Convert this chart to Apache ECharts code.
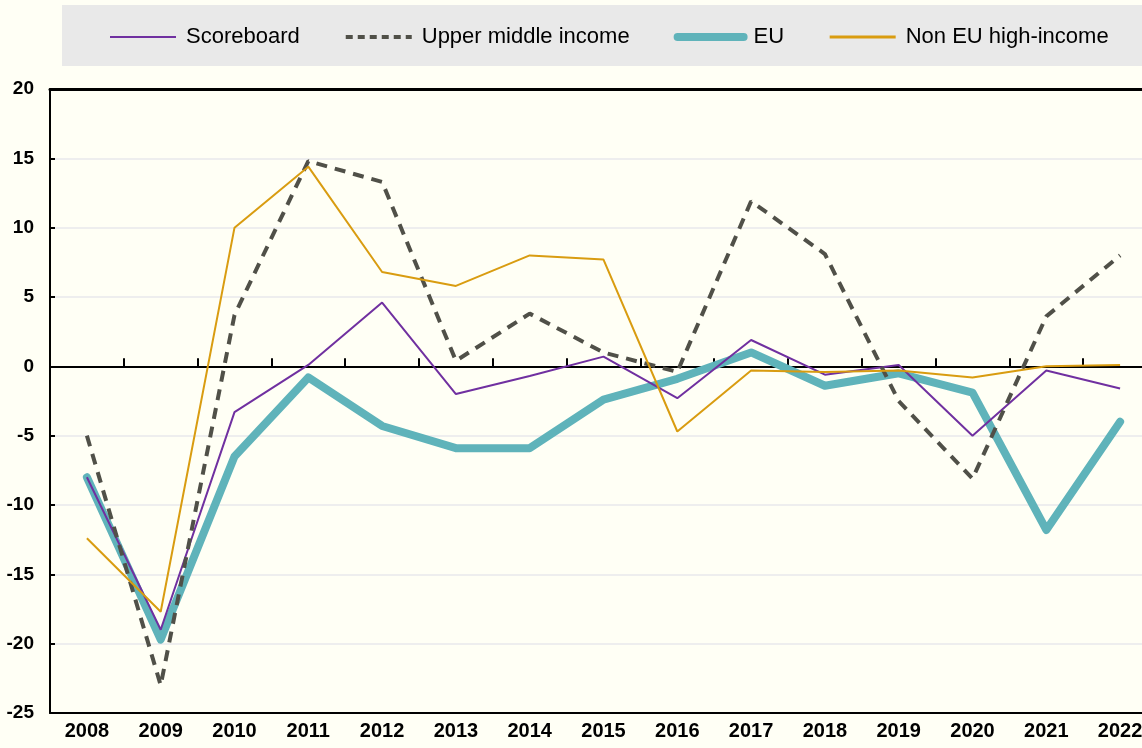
<!DOCTYPE html>
<html>
<head>
<meta charset="utf-8">
<script src="https://cdn.jsdelivr.net/npm/echarts@6/dist/echarts.min.js"></script>
<style>
    html, body { margin: 0; padding: 0; background: #fffff5; }
    #chart { width: 1142px; height: 748px; }
</style>
</head>
<body>
<div id="chart"></div>
<script>
// Data
const years = ['2008', '2009', '2010', '2011', '2012', '2013', '2014', '2015', '2016', '2017', '2018', '2019', '2020', '2021', '2022'];
const scoreboard = [-8.0, -19.0, -3.3, 0.1, 4.6, -2.0, -0.7, 0.7, -2.3, 1.9, -0.6, 0.1, -5.0, -0.3, -1.6];
const upperMiddle = [-5.0, -23.0, 3.7, 14.8, 13.3, 0.4, 3.8, 1.0, -0.4, 11.9, 8.1, -2.5, -8.1, 3.6, 8.0];
const eu = [-8.0, -19.7, -6.5, -0.8, -4.3, -5.9, -5.9, -2.4, -0.9, 1.0, -1.4, -0.5, -1.9, -11.8, -4.0];
const nonEuHigh = [-12.4, -17.7, 10.0, 14.4, 6.8, 5.8, 8.0, 7.7, -4.7, -0.3, -0.4, -0.3, -0.8, 0.0, 0.1];

const labelFont = '"Liberation Sans Narrow", "Arial Narrow", "Liberation Sans", Arial, sans-serif';

// Colours
const colorScoreboard = '#7030a0';
const colorUpper = '#505048';
const colorEu = '#5fb3ba';
const colorNonEu = '#d99c10';

const chart = echarts.init(document.getElementById('chart'));

const options = {
    backgroundColor: '#fffff5',
    animation: false,
    graphic: [
        {
            type: 'rect',
            shape: { x: 62, y: 5, width: 1080, height: 61 },
            style: { fill: '#e9e9e9' },
            z: -1
        }
    ],
    legend: {
        top: 21,
        left: 104,
        itemWidth: 66,
        itemHeight: 14,
        itemGap: 44,
        itemStyle: { opacity: 0 },
        data: [
            { name: 'Scoreboard', lineStyle: { width: 2 } },
            { name: 'Upper middle income', lineStyle: { width: 4, type: [7, 5] } },
            { name: 'EU', lineStyle: { width: 8, cap: 'round' } },
            { name: 'Non EU high-income', lineStyle: { width: 3 } }
        ],
        textStyle: {
            fontFamily: '"Liberation Sans", Arial, sans-serif',
            fontSize: 22,
            color: '#000',
            padding: [0, 0, 0, 5]
        }
    },
    grid: {
        left: 50,
        top: 89,
        width: 1107,
        height: 624,
        outerBoundsMode: 'none',
        containLabel: false
    },
    xAxis: [
        {
            type: 'category',
            data: years,
            position: 'bottom',
            axisLine: { onZero: false, lineStyle: { color: '#000', width: 2 } },
            axisTick: { show: false },
            axisLabel: {
                color: '#000',
                fontFamily: labelFont,
                fontWeight: 'bold',
                fontSize: 20,
                margin: 8
            }
        },
        {
            type: 'category',
            data: years,
            position: 'bottom',
            axisLine: { onZero: true, lineStyle: { color: '#000', width: 2 } },
            axisTick: { show: true, inside: true, length: 8, lineStyle: { color: '#000', width: 2 } },
            axisLabel: { show: false }
        },
        {
            type: 'category',
            data: years,
            position: 'top',
            axisLine: { onZero: false, lineStyle: { color: '#000', width: 3 } },
            axisTick: { show: false },
            axisLabel: { show: false }
        }
    ],
    yAxis: {
        type: 'value',
        min: -25,
        max: 20,
        interval: 5,
        axisLine: { show: true, lineStyle: { color: '#000', width: 2 } },
        axisTick: { show: true, inside: true, length: 5, lineStyle: { color: '#000', width: 2 } },
        splitLine: { lineStyle: { color: '#eeeeee', width: 2 } },
        axisLabel: {
            color: '#000',
            fontFamily: labelFont,
            fontWeight: 'bold',
            fontSize: 19,
            margin: 16
        }
    },
    series: [
        {
            name: 'EU',
            type: 'line',
            data: eu,
            symbol: 'none',
            color: colorEu,
            lineStyle: { width: 8, cap: 'round', join: 'round' },
            z: 2
        },
        {
            name: 'Scoreboard',
            type: 'line',
            data: scoreboard,
            symbol: 'none',
            color: colorScoreboard,
            lineStyle: { width: 2 },
            z: 3
        },
        {
            name: 'Upper middle income',
            type: 'line',
            data: upperMiddle,
            symbol: 'none',
            color: colorUpper,
            lineStyle: { width: 4, type: [11, 8] },
            z: 3
        },
        {
            name: 'Non EU high-income',
            type: 'line',
            data: nonEuHigh,
            symbol: 'none',
            color: colorNonEu,
            lineStyle: { width: 2 },
            z: 3
        }
    ]
};

chart.setOption(options);
</script>
</body>
</html>
